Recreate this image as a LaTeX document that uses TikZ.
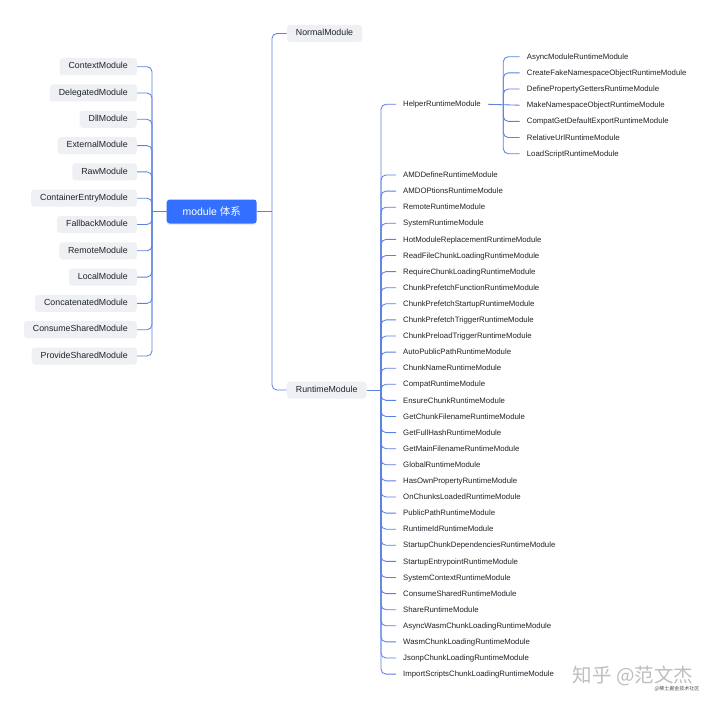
\documentclass[tikz,border=0pt]{standalone}
\usepackage{fontspec}
\setmainfont{Liberation Sans}
\newfontfamily\cjk{Noto Sans CJK SC}
\usetikzlibrary{shadows}
\definecolor{linkblue}{RGB}{92,130,224}
\definecolor{boxgray}{RGB}{238,240,243}
\definecolor{txt}{RGB}{31,35,41}
\definecolor{rootblue}{RGB}{51,112,255}
\definecolor{wmgray}{RGB}{190,190,190}
\tikzset{
  leftbox/.style={fill=boxgray, rounded corners=3pt, inner xsep=9pt, inner ysep=0pt,
    minimum height=17pt, text height=6.4pt, text depth=1.9pt, text=txt,
    font=\fontsize{8.8}{10}\selectfont, anchor=east},
  midbox/.style={leftbox, anchor=west},
  leaf/.style={inner xsep=7pt, inner ysep=0pt, text height=5.8pt, text depth=0.6pt, text=txt,
    font=\fontsize{7.8}{9}\selectfont, anchor=west},
  link/.style={draw=linkblue, line width=0.85pt, rounded corners=5pt},
  root/.style={fill=rootblue, rounded corners=3pt, text=white, minimum width=90pt,
    minimum height=24pt, inner sep=0pt, font=\fontsize{10.5}{12}\selectfont,
    drop shadow={opacity=0.15, shadow xshift=0pt, shadow yshift=-1.5pt}}
}
\begin{document}
\begin{tikzpicture}[x=1pt,y=-1pt]
\useasboundingbox[fill=white] (0,0) rectangle (720,706);

\node[root] (root) at (211.7,211.5) {module {\cjk 体系}};

% left side
\foreach \t [count=\i] in {ContextModule,DelegatedModule,DllModule,ExternalModule,RawModule,ContainerEntryModule,FallbackModule,RemoteModule,LocalModule,ConcatenatedModule,ConsumeSharedModule,ProvideSharedModule}
  \node[leftbox] (l\i) at (137,{66.7+(\i-1)*26.3}) {\t};
\coordinate (LT) at (152,211.5);
\draw[link] (root.west) -- (LT);
\foreach \i in {1,...,12}
  \draw[link] (LT) |- (l\i.east);

% right side
\node[midbox] (normal) at (286.7,33.5) {NormalModule};
\node[midbox] (runtime) at (286.7,390) {RuntimeModule};
\coordinate (RT) at (272,211.5);
\draw[link] (root.east) -- (RT);
\draw[link] (RT) |- (normal.west);
\draw[link] (RT) |- (runtime.west);

% runtime children
\coordinate (RR) at (381,390);
\draw[link] (runtime.east) -- (RR);
\node[leaf] (helper) at (396,104.3) {HelperRuntimeModule};
\draw[link] (RR) |- (helper.west);
\foreach \t [count=\i] in {AMDDefineRuntimeModule,AMDOPtionsRuntimeModule,RemoteRuntimeModule,SystemRuntimeModule,HotModuleReplacementRuntimeModule,ReadFileChunkLoadingRuntimeModule,RequireChunkLoadingRuntimeModule,ChunkPrefetchFunctionRuntimeModule,ChunkPrefetchStartupRuntimeModule,ChunkPrefetchTriggerRuntimeModule,ChunkPreloadTriggerRuntimeModule,AutoPublicPathRuntimeModule,ChunkNameRuntimeModule,CompatRuntimeModule,EnsureChunkRuntimeModule,GetChunkFilenameRuntimeModule,GetFullHashRuntimeModule,GetMainFilenameRuntimeModule,GlobalRuntimeModule,HasOwnPropertyRuntimeModule,OnChunksLoadedRuntimeModule,PublicPathRuntimeModule,RuntimeIdRuntimeModule,StartupChunkDependenciesRuntimeModule,StartupEntrypointRuntimeModule,SystemContextRuntimeModule,ConsumeSharedRuntimeModule,ShareRuntimeModule,AsyncWasmChunkLoadingRuntimeModule,WasmChunkLoadingRuntimeModule,JsonpChunkLoadingRuntimeModule,ImportScriptsChunkLoadingRuntimeModule}
{
  \node[leaf] (r\i) at (396,{175+(\i-1)*16.1}) {\t};
  \draw[link] (RR) |- (r\i.west);
}

% helper children
\coordinate (HT) at (503.3,104.3);
\foreach \t [count=\i] in {AsyncModuleRuntimeModule,CreateFakeNamespaceObjectRuntimeModule,DefinePropertyGettersRuntimeModule,MakeNamespaceObjectRuntimeModule,CompatGetDefaultExportRuntimeModule,RelativeUrlRuntimeModule,LoadScriptRuntimeModule}
  \node[leaf] (h\i) at (519.7,{56.7+(\i-1)*16.17}) {\t};
\draw[link] (helper.east) -- (h4.west);
\foreach \i in {1,2,3,5,6,7}
  \draw[link] (HT) |- (h\i.west);

% watermark
\node[text=wmgray, inner sep=0pt, font=\cjk\fontsize{19.5}{22}\selectfont] (wm) at (633,676) {知乎 @范文杰};
\node[text=txt!80, inner sep=0pt, font=\cjk\fontsize{5}{6}\selectfont] (wm2) at (677,688.5) {@稀土掘金技术社区};
\end{tikzpicture}
\end{document}
